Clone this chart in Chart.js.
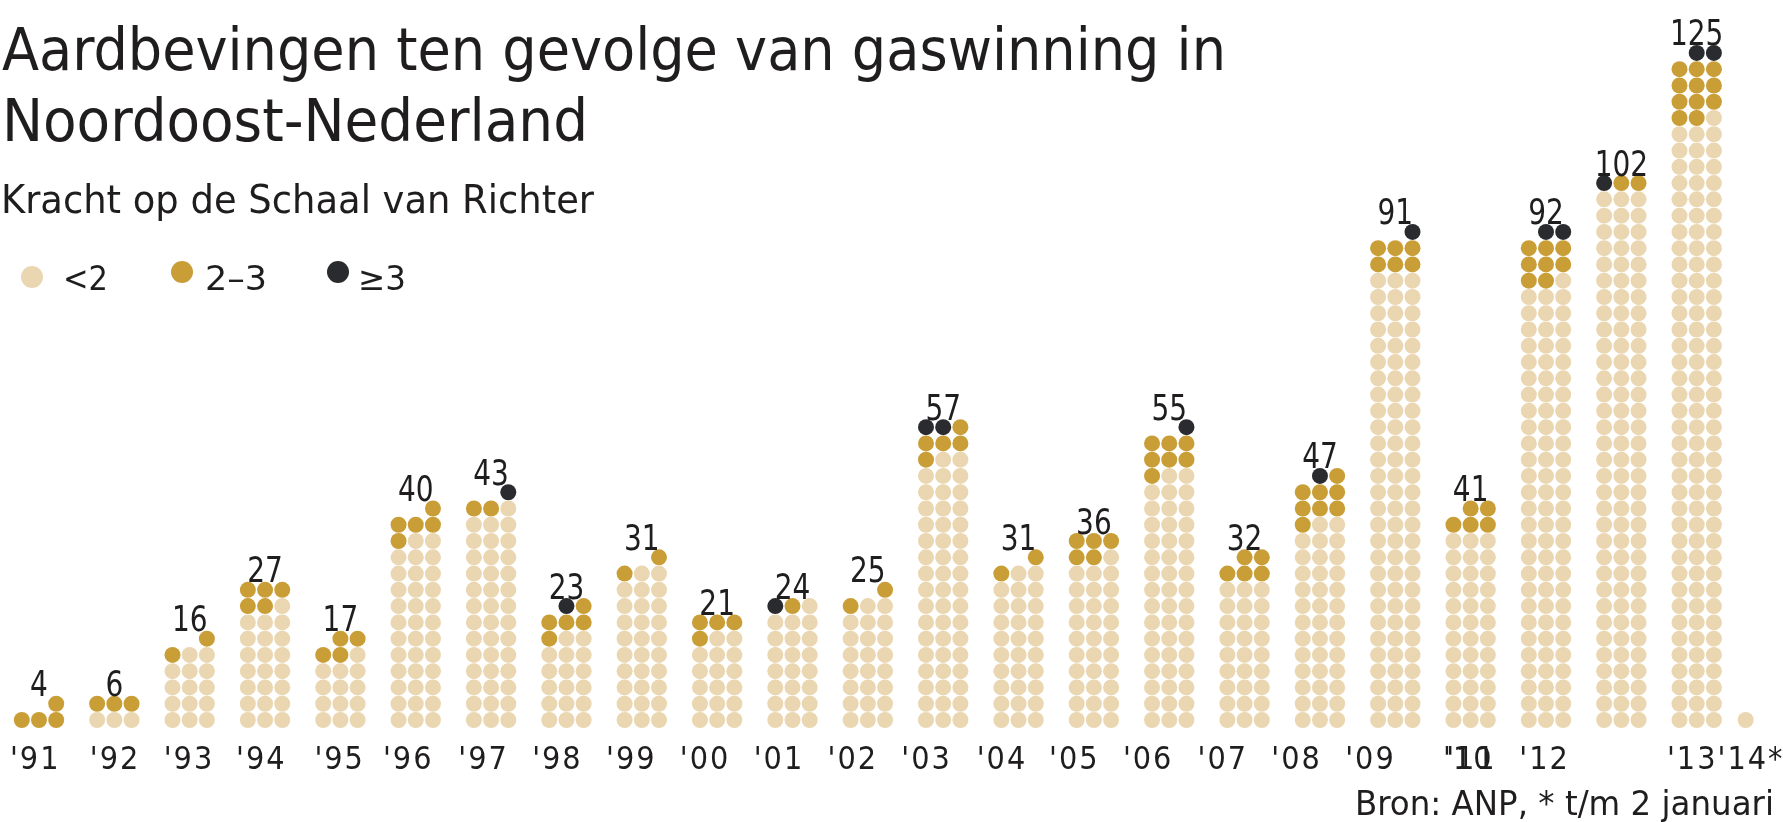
<!DOCTYPE html>
<html lang="nl"><head><meta charset="utf-8">
<title>Aardbevingen ten gevolge van gaswinning in Noordoost-Nederland</title>
<script src="https://cdn.jsdelivr.net/npm/chart.js@4.4.1/dist/chart.umd.min.js"></script>
<style>
html,body{margin:0;padding:0;background:#fff;overflow:hidden}
#wrap{position:relative;width:1783px;height:822px;overflow:hidden;background:#fff}
#c{position:absolute;left:0;top:0}
.t{position:absolute;left:0;top:0;white-space:nowrap;color:#1f1d1e;transform-origin:0 0;line-height:normal;margin:0;font-weight:normal}
.dot{position:absolute;border-radius:50%}
</style></head><body>
<div id="wrap">
<canvas id="c" width="1783" height="822"></canvas>
<div class="t" id="t1">Aardbevingen ten gevolge van gaswinning in</div>
<div class="t" id="t2">Noordoost-Nederland</div>
<div class="t" id="sub">Kracht op de Schaal van Richter</div>
<div class="dot" id="d0"></div><div class="t" id="l0"></div>
<div class="dot" id="d1"></div><div class="t" id="l1"></div>
<div class="dot" id="d2"></div><div class="t" id="l2"></div>
<div class="t" id="src">Bron: ANP, * t/m 2 januari</div>
</div>
<script>
// ---------------- data ----------------
const years = [1991,1992,1993,1994,1995,1996,1997,1998,1999,2000,2001,2002,2003,2004,2005,2006,2007,2008,2009,2010,2011,2012,2013,2014];
const countBelow2 = [0,3,14,22,13,35,40,17,29,17,22,23,50,29,31,47,27,38,84,36,82,99,112,1];
const count2to3   = [4,3,2,5,4,5,2,5,2,4,1,2,5,2,5,7,5,8,6,5,8,2,11,0];
const count3plus  = [0,0,0,0,0,0,1,1,0,0,1,0,2,0,0,1,0,1,1,0,2,1,2,0];
const totalLabels = ['4','6','16','27','17','40','43','23','31','21','24','25','57','31','36','55','32','47','91','41','92','102','125',''];
const tickLabels  = ["'91","'92","'93","'94","'95","'96","'97","'98","'99","'00","'01","'02","'03","'04","'05","'06","'07","'08","'09","'10","'11","'12","'13","'14*"];
const tickValues  = [-0.05,1.01,1.99,2.95,3.99,4.90,5.90,6.88,7.86,8.84,9.82,10.80,11.78,12.78,13.74,14.72,15.71,16.69,17.67,18.97,19.01,19.98,21.94,22.72];
const seriesNames = ['<2','2–3','≥3'];

// ---------------- layout / style ----------------
const W = 1783, H = 822;
const COLORS = ['#EAD7B1', '#C99E36', '#2A2B2F'];
const TEXT = '#1f1d1e';
const COL_PX0 = 39, COL_STEP = 75.35;
const DOT_STEP_X = 17.2, ROW_PX = 16.27, ROW0_Y = 720;
const AXIS_H = 86;
const XMIN = -COL_PX0 / COL_STEP, XMAX = XMIN + W / COL_STEP;
const YMIN = -((H - AXIS_H) - ROW0_Y) / ROW_PX, YMAX = YMIN + (H - AXIS_H) / ROW_PX;
const DX = DOT_STEP_X / COL_STEP;
const LAST_COL_X = 22.65;
const DOT_R = 8;

function hasFont(f){
  const c = document.createElement('canvas').getContext('2d');
  const s = 'abcdefgWMil0123456789';
  c.font = '40px monospace'; const a = c.measureText(s).width;
  c.font = '40px "' + f + '", monospace'; const b = c.measureText(s).width;
  return Math.abs(a - b) > 0.5;
}
const cand = ['DejaVu Sans Condensed','Liberation Sans Narrow','Open Sans','DejaVu Sans'];
const FAMNAME = cand.find(hasFont) || 'sans-serif';
const FAM = '"' + FAMNAME + '", sans-serif';

const mctx = document.createElement('canvas').getContext('2d');
function ratio(ch, fam){ mctx.font = '100px ' + fam; const m = mctx.measureText(ch); return {h: m.actualBoundingBoxAscent/100, w: m.width/100}; }

// ---------- HTML text placement ----------
function placeText(el, o){
  const capR = ratio(o.capChar || 'H', FAM).h;
  const size = o.capH / capR;
  el.style.fontFamily = FAM;
  el.style.fontSize = size + 'px';
  el.style.color = TEXT;
  const natural = el.getBoundingClientRect().width;
  let sx = o.width ? o.width / natural : 1;
  if (o.clamp) sx = Math.max(0.75, Math.min(1.3, sx));
  el.style.transform = 'scaleX(' + sx + ')';
  const probe = document.createElement('span');
  probe.style.cssText = 'display:inline-block;width:0;height:0;vertical-align:baseline';
  el.appendChild(probe);
  const off = probe.getBoundingClientRect().top - el.getBoundingClientRect().top;
  el.style.top = (o.baseline - off) + 'px';
  el.style.left = (o.right !== undefined ? o.right - natural * sx : o.left) + 'px';
}
placeText(document.getElementById('t1'), {left: 2, baseline: 70, capH: 43, width: 1224});
placeText(document.getElementById('t2'), {left: 2, baseline: 141, capH: 43, width: 586});
placeText(document.getElementById('sub'), {left: 1, baseline: 213, capH: 28, width: 593});
const legPos = [{dx: 32, dy: 277, tx: 63, w: 45}, {dx: 182, dy: 272, tx: 205, w: 62}, {dx: 338, dy: 272, tx: 358, w: 48}];
seriesNames.forEach((n, i) => {
  const d = document.getElementById('d' + i), p = legPos[i], D = 22;
  d.style.cssText += ';left:' + (p.dx - D/2) + 'px;top:' + (p.dy - D/2) + 'px;width:' + D + 'px;height:' + D + 'px;background:' + COLORS[i];
  const l = document.getElementById('l' + i); l.textContent = n;
  placeText(l, {left: p.tx, baseline: 290, capH: 25, capChar: '2', width: p.w, clamp: true});
});
placeText(document.getElementById('src'), {right: 1774, baseline: 815, capH: 25, width: 419});

// ---------- dots ----------
const colX = i => (i === years.length - 1 ? LAST_COL_X : i);
const pts = [[], [], []];
years.forEach((yr, i) => {
  const a = countBelow2[i], b = count2to3[i], c = count3plus[i], n = a + b + c;
  for (let p = 0; p < n; p++) {
    const row = Math.floor(p / 3), k = p % 3;
    const off = n < 3 ? k - (n - 1) / 2 : 1 - k;
    const cat = p < a ? 0 : (p < a + b ? 1 : 2);
    pts[cat].push({x: colX(i) + off * DX, y: row});
  }
});

// ---------- fonts for canvas ----------
const dig = ratio('0', FAM);
const VAL_SIZE = 27 / dig.h;
const VAL_SX = Math.min(1, 17.8 / (dig.w * VAL_SIZE));
const TICK_SIZE = 24 / dig.h;
const TICK_LS = 2;

const valuePlugin = {
  id: 'values',
  afterDatasetsDraw(chart) {
    const {ctx, scales: {x, y}} = chart;
    ctx.save();
    ctx.letterSpacing = '0px';
    ctx.font = VAL_SIZE + 'px ' + FAM;
    ctx.fillStyle = TEXT;
    ctx.textAlign = 'center';
    ctx.textBaseline = 'alphabetic';
    years.forEach((yr, i) => {
      const lbl = totalLabels[i]; if (!lbl) return;
      const n = countBelow2[i] + count2to3[i] + count3plus[i];
      const topRow = Math.floor((n - 1) / 3);
      const px = x.getPixelForValue(colX(i));
      const py = y.getPixelForValue(topRow) - 7.5;
      ctx.save(); ctx.translate(px, py); ctx.scale(VAL_SX, 1); ctx.fillText(lbl, 0, 0); ctx.restore();
    });
    ctx.restore();
  }
};
const spacingPlugin = {
  id: 'spacing',
  beforeDraw(chart) { chart.ctx.letterSpacing = TICK_LS + 'px'; },
  afterDraw(chart) { chart.ctx.letterSpacing = '0px'; }
};

new Chart(document.getElementById('c'), {
  type: 'scatter',
  data: {
    datasets: seriesNames.map((n, i) => ({
      label: n, data: pts[i],
      backgroundColor: COLORS[i], pointBackgroundColor: COLORS[i],
      pointRadius: DOT_R, pointHoverRadius: DOT_R, pointBorderWidth: 0, borderWidth: 0, clip: false
    }))
  },
  options: {
    responsive: false, animation: false, events: [],
    layout: {padding: 0, autoPadding: false},
    plugins: {legend: {display: false}, tooltip: {enabled: false}, title: {display: false}},
    scales: {
      x: {
        type: 'linear', bounds: 'data', min: XMIN, max: XMAX,
        grid: {display: false, drawTicks: false}, border: {display: false},
        afterBuildTicks: ax => { ax.ticks = tickValues.map(v => ({value: v})); },
        afterFit: ax => { ax.height = AXIS_H; ax.paddingLeft = 0; ax.paddingRight = 0; },
        ticks: {
          autoSkip: false, maxRotation: 0, minRotation: 0, padding: 5,
          color: TEXT, font: {family: FAM, size: TICK_SIZE},
          callback: (v, i) => tickLabels[i]
        }
      },
      y: {type: 'linear', display: false, min: YMIN, max: YMAX}
    }
  },
  plugins: [valuePlugin, spacingPlugin]
});
</script>
</body></html>
